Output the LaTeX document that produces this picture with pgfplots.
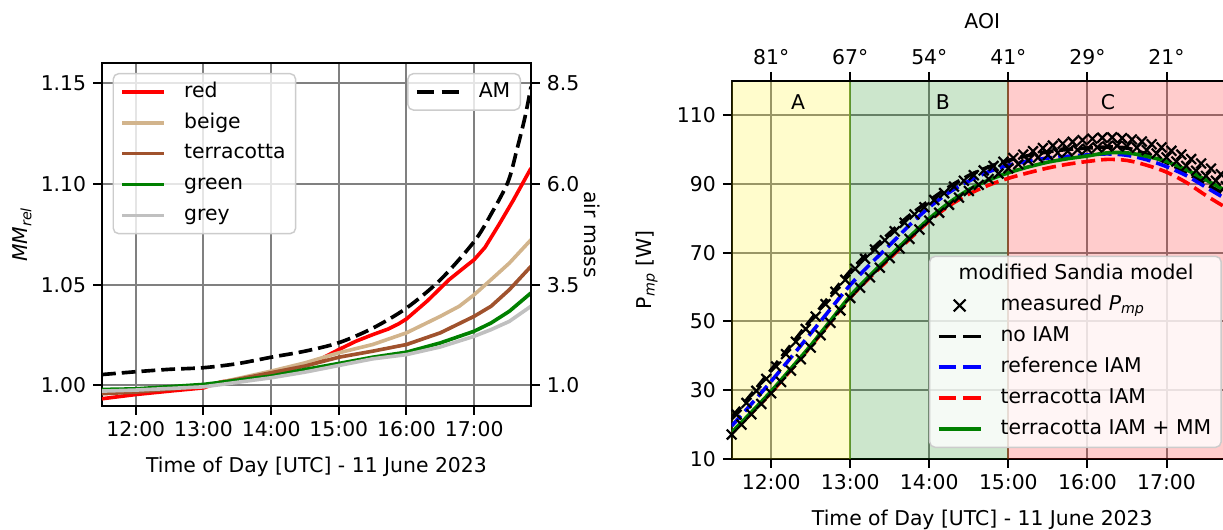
\documentclass[border=0pt]{standalone}
\usepackage{fontspec}
\setmainfont{DejaVu Sans}
\usepackage{pgfplots}
\pgfplotsset{compat=1.18}
\definecolor{mpred}{HTML}{FF0000}
\definecolor{mpbeige}{HTML}{D2B48C}
\definecolor{mpterra}{HTML}{A0522D}
\definecolor{mpgreen}{HTML}{008000}
\definecolor{mpgrey}{HTML}{C0C0C0}
\definecolor{mpblue}{HTML}{0000FF}
\definecolor{gridgray}{HTML}{808080}
\definecolor{legedge}{HTML}{CCCCCC}
\newcommand{\myfont}{\fontsize{11.2}{13.4}\selectfont}
\pgfplotsset{
  mybase/.style={
    scale only axis,
    axis line style={line width=1.1pt, black},
    tick align=outside,
    major tick length=4.8pt,
    every tick/.style={black, line width=1.1pt},
    tick label style={font=\myfont},
    label style={font=\myfont},
    legend style={font=\myfont, draw=legedge, line width=0.8pt,
      fill=white, fill opacity=0.8, text opacity=1, draw opacity=1,
      rounded corners=3pt, inner xsep=4pt, inner ysep=3pt, row sep=3pt,
      nodes={inner sep=1.5pt, text height=8.4pt, text depth=2.6pt},
      /tikz/every odd column/.style={column sep=8.5pt}},
    legend cell align=left,
  },
  linelegend/.style={legend image code/.code={\draw[##1] (0pt,0pt) -- (23pt,0pt);}},
  dashlegend/.style={legend image code/.code={\draw[##1, dash pattern=on 9.5pt off 4pt] (0pt,0pt) -- (23pt,0pt);}},
  marklegend/.style={legend image code/.code={\draw[##1, mark size=4.6pt] plot coordinates {(11.5pt,0pt)};}},
  mydash/.style={dash pattern=on 7.6pt off 3.3pt},
  meas/.style={black, only marks, mark=x, mark size=3.8pt, mark options={line width=1.2pt}},
}
\begin{document}
\myfont
\begin{tikzpicture}[font=\myfont]
% ---------------- left panel ----------------
\begin{axis}[mybase, name=ax1, at={(56.1pt,68.2pt)}, anchor=south west,
  width=235.95pt, height=188.65pt,
  xmin=11.5, xmax=17.84, ymin=0.9898, ymax=1.160,
  xtick={12,13,14,15,16,17}, xticklabels={12:00,13:00,14:00,15:00,16:00,17:00},
  ytick={1,1.05,1.1,1.15}, yticklabels={1.00,1.05,1.10,1.15},
  xtick pos=left, ytick pos=left,
  grid=major, grid style={gridgray, line width=1.1pt},
  xlabel={Time of Day [UTC] - 11 June 2023},
  ylabel={\textit{MM}\textsubscript{\textit{rel}}},
  every axis x label/.style={at={(axis description cs:0.5,-0.195)}, anchor=base},
  every axis y label/.style={at={(axis description cs:-0.1865,0.5)}, anchor=center, rotate=90},
  legend style={at={(axis description cs:0.0245,0.971)}, anchor=north west},
]
\addplot[mpred, line width=2pt, linelegend] coordinates {
(11.5,0.9934) (12.0,0.9955) (12.5,0.9972) (13.0,0.9988) (13.25,1.0017) (13.5,1.0030)
(14.0,1.0054) (14.2,1.0071) (14.5,1.0104) (14.72,1.0129) (15.0,1.0178) (15.25,1.0219)
(15.5,1.0252) (15.73,1.0280) (15.88,1.0305) (16.0,1.0330) (16.31,1.0420) (16.63,1.0525)
(16.89,1.0595) (17.0,1.0624) (17.16,1.0685) (17.37,1.0800) (17.58,1.0920) (17.84,1.1078)};
\addlegendentry{red}
\addplot[mpbeige, line width=2pt, linelegend] coordinates {
(11.5,0.9964) (12.0,0.9972) (13.0,0.9997) (14.0,1.0071) (14.5,1.0112) (15.0,1.0162)
(15.5,1.0203) (16.0,1.0261) (16.5,1.0343) (16.78,1.0393) (17.0,1.0450) (17.25,1.0525)
(17.52,1.0607) (17.84,1.0723)};
\addlegendentry{beige}
\addplot[mpterra, line width=2pt, linelegend] coordinates {
(11.5,0.9959) (12.0,0.9967) (13.0,0.9997) (14.0,1.0063) (14.5,1.0096) (15.0,1.0140)
(15.5,1.0170) (16.0,1.0203) (16.5,1.0261) (17.0,1.0343) (17.25,1.0393) (17.52,1.0475)
(17.84,1.0591)};
\addlegendentry{terracotta}
\addplot[mpgreen, line width=2pt, linelegend] coordinates {
(11.5,0.9980) (12.0,0.9983) (13.0,1.0005) (14.0,1.0046) (14.5,1.0079) (15.0,1.0109)
(15.5,1.0140) (16.0,1.0165) (16.5,1.0211) (17.0,1.0269) (17.25,1.0310) (17.52,1.0368)
(17.84,1.0459)};
\addlegendentry{green}
\addplot[mpgrey, line width=2pt, linelegend] coordinates {
(11.5,0.9972) (12.0,0.9977) (13.0,0.9993) (14.0,1.0038) (14.5,1.0066) (15.0,1.0099)
(15.5,1.0132) (16.0,1.0153) (16.5,1.0191) (17.0,1.0244) (17.25,1.0277) (17.52,1.0318)
(17.84,1.0393)};
\addlegendentry{grey}
\end{axis}
\begin{axis}[mybase, at={(56.1pt,68.2pt)}, anchor=south west,
  width=235.95pt, height=188.65pt,
  xmin=11.5, xmax=17.84, ymin=0.49, ymax=9.0,
  hide x axis, axis y line*=right,
  ytick={1,3.5,6,8.5}, yticklabels={1.0,3.5,6.0,8.5},
  ylabel={air mass},
  every axis y label/.style={at={(axis description cs:1.1415,0.5)}, anchor=center, rotate=-90},
  legend style={at={(axis description cs:0.9767,0.971)}, anchor=north east},
]
\addplot[black, line width=2pt, mydash, smooth, dashlegend] coordinates {
(11.5,1.27) (12.0,1.34) (12.5,1.40) (13.0,1.44) (13.5,1.54) (14.0,1.70) (14.5,1.85)
(15.0,2.06) (15.5,2.42) (16.0,2.92) (16.5,3.62) (17.0,4.57) (17.25,5.25) (17.5,6.05)
(17.63,6.84) (17.75,7.65) (17.84,8.41)};
\addlegendentry{AM}
\end{axis}
% ---------------- right panel ----------------
\begin{axis}[mybase, name=ax2, at={(402.4pt,39.05pt)}, anchor=south west,
  width=275.7pt, height=208.1pt,
  xmin=11.5, xmax=17.84, ymin=10, ymax=120,
  xtick={12,13,14,15,16,17}, xticklabels={12:00,13:00,14:00,15:00,16:00,17:00},
  ytick={10,30,50,70,90,110}, yticklabels={10,30,50,70,90,110},
  xtick pos=left, ytick pos=left,
  grid=major, grid style={gridgray, line width=1.1pt},
  xlabel={Time of Day [UTC] - 11 June 2023},
  ylabel={P\textsubscript{\textit{mp}} [W]},
  every axis x label/.style={at={(axis description cs:0.5,-0.177)}, anchor=base},
  every axis y label/.style={at={(axis description cs:-0.169,0.5)}, anchor=center, rotate=90},
  legend style={at={(axis description cs:0.978,0.029)}, anchor=south east},
]
\addplot[draw=yellow, fill=yellow, fill opacity=0.2, draw opacity=0.3, line width=1pt, forget plot]
  coordinates {(11.0,0) (13,0) (13,130) (11.0,130) (11.0,0)};
\addplot[draw=mpgreen, fill=mpgreen, fill opacity=0.2, draw opacity=0.3, line width=1pt, forget plot]
  coordinates {(13,0) (15,0) (15,130) (13,130) (13,0)};
\addplot[draw=mpred, fill=mpred, fill opacity=0.2, draw opacity=0.3, line width=1pt, forget plot]
  coordinates {(15,0) (18.5,0) (18.5,130) (15,130) (15,0)};
\node at (axis cs:12.34,113.9) {A};
\node at (axis cs:14.17,113.9) {B};
\node at (axis cs:16.26,113.9) {C};
\addlegendimage{empty legend}
\addlegendentry{\hspace*{-23pt}modified Sandia model}
\addplot[meas, marklegend] coordinates {
(11.5,17.1) (11.625,20.0) (11.75,23.0) (11.875,26.0) (12.0,29.1) (12.125,32.4)
(12.25,35.7) (12.375,39.0) (12.5,42.4) (12.625,46.0) (12.75,49.6) (12.875,53.2)
(13.0,56.8) (13.125,59.8) (13.25,62.8) (13.375,65.6) (13.5,68.4) (13.625,71.2)
(13.75,74.0) (13.875,76.7) (14.0,79.3) (14.125,81.6) (14.25,83.9) (14.375,86.0)
(14.5,87.9) (14.625,89.7) (14.75,91.4) (14.875,93.0) (15.0,94.5) (15.125,95.7)
(15.25,96.8) (15.375,97.6) (15.5,98.4) (15.625,99.0) (15.75,99.5) (15.875,99.9)
(16.0,100.2) (16.125,100.6) (16.25,100.9) (16.375,101.1) (16.5,100.9) (16.625,100.5)
(16.75,99.8) (16.875,98.8) (17.0,97.7) (17.125,96.5) (17.25,95.2) (17.375,93.8)
(17.5,92.3) (17.625,90.9) (17.75,89.3) (17.84,88.2)};
\addlegendentry{measured \textit{P}\textsubscript{\textit{mp}}}
\addplot[meas, forget plot] coordinates {
(11.5625,22.9) (11.6875,26.3) (11.8125,29.8) (11.9375,33.3) (12.0625,36.9) (12.1875,40.5)
(12.3125,44.1) (12.4375,47.8) (12.5625,51.4) (12.6875,55.0) (12.8125,58.6) (12.9375,62.1)
(13.0625,65.3) (13.1875,68.2) (13.3125,70.9) (13.4375,73.6) (13.5625,76.2) (13.6875,78.7)
(13.8125,81.1) (13.9375,83.2) (14.0625,85.3) (14.1875,87.3) (14.3125,89.2) (14.4375,90.9)
(14.5625,92.5) (14.6875,93.9) (14.8125,95.2) (14.9375,96.4) (15.0625,97.5) (15.1875,98.5)
(15.3125,99.5) (15.4375,100.4) (15.5625,101.1) (15.6875,101.7) (15.8125,102.2) (15.9375,102.7)
(16.0625,103.1) (16.1875,103.4) (16.3125,103.5) (16.4375,103.3) (16.5625,102.9) (16.6875,102.3)
(16.8125,101.5) (16.9375,100.6) (17.0625,99.6) (17.1875,98.5) (17.3125,97.2) (17.4375,95.9)
(17.5625,94.4) (17.6875,92.8) (17.8125,91.0)};
\addplot[black, line width=2pt, mydash, smooth, dashlegend] coordinates {
(11.5,22.0) (11.75,28.8) (12.0,35.9) (12.25,43.1) (12.5,50.4) (12.75,57.6) (13.0,64.6)
(13.25,70.4) (13.5,75.7) (13.75,80.8) (14.0,85.1) (14.25,89.1) (14.5,92.4) (14.75,94.9)
(15.0,96.8) (15.25,98.2) (15.5,99.3) (15.75,100.0) (16.0,100.4) (16.25,100.7) (16.5,100.4)
(16.75,98.6) (17.0,96.2) (17.25,93.3) (17.5,89.9) (17.75,86.8) (17.84,85.4)};
\addlegendentry{no IAM}
\addplot[mpblue, line width=2pt, mydash, smooth, dashlegend] coordinates {
(11.5,19.6) (11.75,26.0) (12.0,32.6) (12.25,39.5) (12.5,46.5) (12.75,53.6) (13.0,60.6)
(13.25,66.6) (13.5,72.2) (13.75,78.0) (14.0,83.2) (14.25,87.5) (14.5,90.8) (14.75,93.5)
(15.0,95.4) (15.25,96.6) (15.5,97.5) (15.75,98.0) (16.0,98.4) (16.25,98.7) (16.5,98.3)
(16.75,97.0) (17.0,95.0) (17.25,92.4) (17.5,89.0) (17.75,85.6) (17.84,84.3)};
\addlegendentry{reference IAM}
\addplot[mpred, line width=2pt, mydash, smooth, dashlegend] coordinates {
(11.5,17.5) (11.75,23.3) (12.0,29.3) (12.25,35.9) (12.5,42.7) (12.75,49.8) (13.0,56.9)
(13.25,62.8) (13.5,68.3) (13.75,73.9) (14.0,79.2) (14.25,83.6) (14.5,87.0) (14.75,89.6)
(15.0,91.6) (15.25,93.2) (15.5,94.6) (15.75,95.7) (16.0,96.5) (16.25,97.1) (16.5,96.8)
(16.75,95.4) (17.0,93.4) (17.25,90.4) (17.5,86.6) (17.75,83.1) (17.84,81.8)};
\addlegendentry{terracotta IAM}
\addplot[mpgreen, line width=2pt, smooth, linelegend] coordinates {
(11.5,17.7) (11.75,23.6) (12.0,29.7) (12.25,36.3) (12.5,43.0) (12.75,50.2) (13.0,57.4)
(13.25,63.4) (13.5,69.0) (13.75,74.6) (14.0,79.9) (14.25,84.5) (14.5,88.3) (14.75,91.1)
(15.0,93.2) (15.25,94.9) (15.5,96.3) (15.75,97.3) (16.0,98.1) (16.25,99.0) (16.5,99.0)
(16.75,98.0) (17.0,96.5) (17.25,94.1) (17.5,91.1) (17.75,88.0) (17.84,86.8)};
\addlegendentry{terracotta IAM + MM}
\end{axis}
\begin{axis}[mybase, at={(402.4pt,39.05pt)}, anchor=south west,
  width=275.7pt, height=208.1pt,
  xmin=11.5, xmax=17.84, ymin=10, ymax=120,
  axis x line*=top, axis y line=none,
  xtick={12,13,14,15,16,17}, xticklabels={81°,67°,54°,41°,29°,21°},
  xlabel={AOI},
  every axis x label/.style={at={(axis description cs:0.5,1.139)}, anchor=base},
]
\addplot[draw=none] coordinates {(12,50)};
\end{axis}
\pgfresetboundingbox
\path[use as bounding box] (0pt,0pt) rectangle (672.65pt,291.5pt);
\end{tikzpicture}
\end{document}
